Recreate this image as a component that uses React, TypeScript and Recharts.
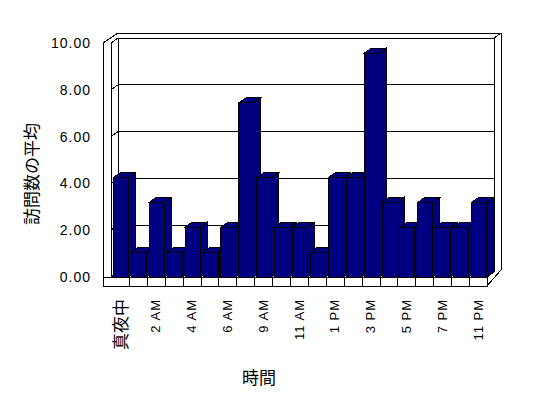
import React from 'react';
import { BarChart, Bar, XAxis, YAxis, CartesianGrid, Customized } from 'recharts';

// ---- data ----
const categories = ['真夜中', '1 AM', '2 AM', '3 AM', '4 AM', '5 AM', '6 AM', '8 AM', '9 AM', '10 AM', '11 AM', '正午', '1 PM', '2 PM', '3 PM', '4 PM', '5 PM', '6 PM', '7 PM', '9 PM', '11 PM'];
const averageVisits = [4.25, 1.06, 3.19, 1.06, 2.13, 1.06, 2.13, 7.44, 4.25, 2.13, 2.13, 1.06, 4.25, 4.25, 9.56, 3.19, 2.13, 3.19, 2.13, 2.13, 3.19];
const yTicks = [0, 2, 4, 6, 8, 10];
const yAxisTitle = '訪問数の平均';
const xAxisTitle = '時間';

const data = categories.map((name, i) => ({ name, value: averageVisits[i] }));

// ---- layout ----
const W = 548;
const H = 398;
const PLOT = { left: 111, top: 43, right: 487, bottom: 277 };
const DX = 7;
const DY = -5;
const NAVY = '#000080';
const LATIN = '"Liberation Sans", Arial, sans-serif';
const CJK = '"Noto Sans CJK JP", sans-serif';

const L = (x1: number, y1: number, x2: number, y2: number, k: string) => (
  <line key={k} x1={x1} y1={y1} x2={x2} y2={y2} stroke="#000" strokeWidth={1} shapeRendering="crispEdges" />
);

const Frame = () => {
  const { left, top, right, bottom } = PLOT;
  const n = categories.length;
  const step = (right - left) / n;
  const oL = left - 8; // outer left edge of the left wall
  const bx = left + DX;
  const by = top + DY;
  const rx = right + DX;
  const ox = rx + 7; // outer right edge
  const oy = by - 5; // outer top edge
  const fb = bottom + 9; // floor front bottom
  const lines: React.ReactNode[] = [];
  lines.push(L(oL, top, oL, fb, 'l1'));
  lines.push(L(left, top, left, bottom, 'l2'));
  lines.push(L(oL, top, bx, oy, 'd1'));
  lines.push(L(left, top, bx, by, 'd2'));
  lines.push(L(bx, oy, ox, oy, 't1'));
  lines.push(L(bx, by, rx, by, 't2'));
  lines.push(L(rx, by, ox, oy, 'd3'));
  lines.push(L(ox, oy, ox, bottom + DY - 2, 'r1'));
  lines.push(L(rx, by, rx, bottom + DY, 'r2'));
  lines.push(L(bx, by, bx, bottom + DY, 'b1'));
  lines.push(L(right, fb, ox, bottom + DY - 2, 'd4'));
  lines.push(L(right, bottom, rx, bottom + DY, 'd5'));
  for (let k = 1; k < n; k++) {
    const x = Math.round(left + k * step);
    lines.push(L(x, bottom, x, fb, 'v' + k));
  }
  return (
    <g>
      <rect x={oL} y={bottom} width={right - oL} height={9} fill="#fff" stroke="#000" shapeRendering="crispEdges" />
      {lines}
      <text x={30} y={174} transform="rotate(-90 30 174)" textAnchor="middle" dominantBaseline="central" fontFamily={CJK} fontSize={17} fill="#000" stroke="none">
        {yAxisTitle}
      </text>
      <text x={259} y={376} textAnchor="middle" dominantBaseline="central" fontFamily={CJK} fontSize={17} fill="#000" stroke="none">
        {xAxisTitle}
      </text>
    </g>
  );
};

const GridLine = (p: any) => {
  const { x1, x2, y1 } = p;
  return (
    <g key={p.key ?? `g-${y1}`}>
      {L(x1, y1, x1 + DX, y1 + DY, 'a')}
      {L(x1 + DX, y1 + DY, x2 + DX, y1 + DY, 'b')}
    </g>
  );
};

const Bar3D = (p: any) => {
  const { x, y, width, height } = p;
  if (width == null || height == null) return null;
  const fx = x + 1.5;
  const w = width;
  const h = height;
  const common = { fill: NAVY, stroke: '#000', strokeWidth: 1, shapeRendering: 'crispEdges' as const };
  const top = `${fx},${y} ${fx + DX},${y + DY} ${fx + w + DX},${y + DY} ${fx + w},${y}`;
  const side = `${fx + w},${y} ${fx + w + DX},${y + DY} ${fx + w + DX},${y + h + DY} ${fx + w},${y + h}`;
  return (
    <g>
      <polygon points={side} {...common} />
      <polygon points={top} {...common} />
      <rect x={fx} y={y} width={w} height={h} {...common} />
    </g>
  );
};

const YTick = (p: any) => {
  const { y, payload } = p;
  return (
    <text x={91} y={y} textAnchor="end" dominantBaseline="central" fontFamily={LATIN} fontSize={14} letterSpacing={1} fill="#000" stroke="none">
      {Number(payload.value).toFixed(2)}
    </text>
  );
};

const LABEL_TOP = 299;

const XTick = (p: any) => {
  const { x, payload } = p;
  const label = String(payload.value);
  const isCjk = /[^\x00-\x7F]/.test(label);
  return (
    <text
      x={x}
      y={LABEL_TOP}
      transform={`rotate(-90 ${x} ${LABEL_TOP})`}
      textAnchor="end"
      dominantBaseline="central"
      fontFamily={isCjk ? CJK : LATIN}
      fontSize={isCjk ? 17 : 13}
      letterSpacing={isCjk ? 0 : 1}
      fill="#000"
      stroke="none"
    >
      {label}
    </text>
  );
};

export default function App() {
  return (
    <div style={{ position: 'absolute', left: 0, top: 0, width: W, height: H, background: '#fff' }}>
      <BarChart
        width={W}
        height={H}
        data={data}
        margin={{ top: PLOT.top, right: W - PLOT.right, bottom: 0, left: 0 }}
      >
        <Customized component={Frame} />
        <CartesianGrid vertical={false} horizontal={GridLine} />
        <XAxis
          dataKey="name"
          interval={1}
          tickLine={false}
          axisLine={false}
          height={H - PLOT.bottom}
          tick={XTick}
        />
        <YAxis
          domain={[0, 10]}
          ticks={yTicks}
          width={PLOT.left}
          tickLine={false}
          axisLine={false}
          tick={YTick}
          allowDataOverflow
        />
        <Bar dataKey="value" barSize={15} shape={Bar3D} isAnimationActive={false} />
      </BarChart>
    </div>
  );
}
